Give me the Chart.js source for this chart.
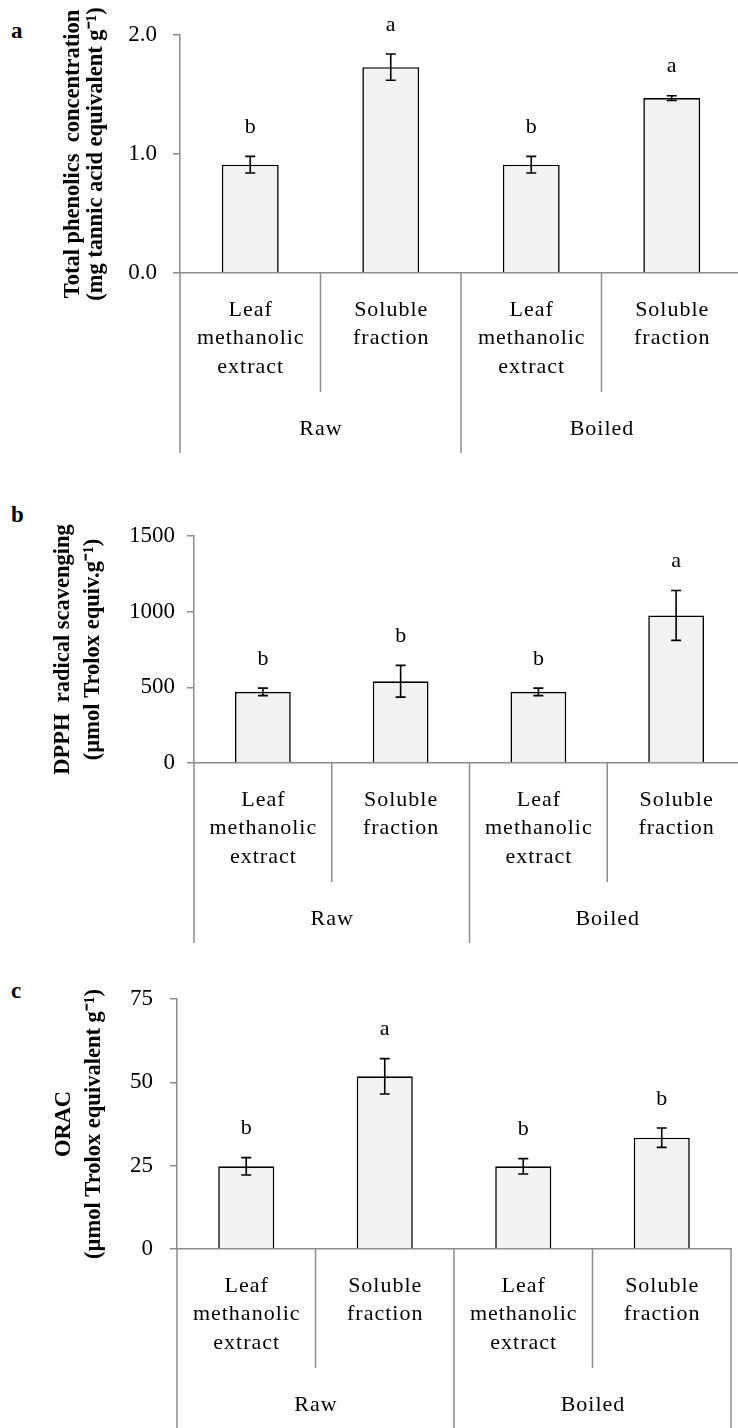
<!DOCTYPE html>
<html>
<head>
<meta charset="utf-8">
<script src="https://cdn.jsdelivr.net/npm/chart.js@4.4.1/dist/chart.umd.min.js"></script>
<style>
  html, body { margin: 0; padding: 0; background: #fff; }
  body { width: 738px; height: 1428px; overflow: hidden; position: relative; }
  .panel { position: absolute; left: 0; }
  .tag { position: absolute; left: 11px; font: bold 23px "Liberation Serif", serif; line-height: 23px; color: #000; }
</style>
</head>
<body>
<div class="tag" style="top:19px">a</div>
<div class="tag" style="top:503px">b</div>
<div class="tag" style="top:979px">c</div>

<div class="panel" style="top:0px"><canvas id="phenolics" width="750" height="460"></canvas></div>
<div class="panel" style="top:490px"><canvas id="dpph" width="750" height="460"></canvas></div>
<div class="panel" style="top:960px"><canvas id="orac" width="738" height="468"></canvas></div>

<script>
// categories, grouped as Raw / Boiled
const groups = ["Raw", "Boiled"]
const groupSizes = [2, 2]
const categories = [
    ["Leaf", "methanolic", "extract"],
    ["Soluble", "fraction"],
    ["Leaf", "methanolic", "extract"],
    ["Soluble", "fraction"]
]

// a - total phenolics (mg tannic acid equivalent g-1)
const phenolics = [0.91, 1.73, 0.91, 1.47]
const phenolicsErr = [0.07, 0.11, 0.07, 0.02]
const phenolicsLetters = ["b", "a", "b", "a"]

// b - DPPH radical scavenging (umol Trolox equiv. g-1)
const dpph = [470, 540, 470, 975]
const dpphErr = [25, 105, 25, 165]
const dpphLetters = ["b", "b", "b", "a"]

// c - ORAC (umol Trolox equivalent g-1)
const orac = [24.8, 51.8, 24.8, 33.4]
const oracErr = [2.6, 5.3, 2.3, 2.9]
const oracLetters = ["b", "a", "b", "b"]

const serif = '"Liberation Serif", "Times New Roman", serif'
const axisGrey = "#8c8c8c"
Chart.defaults.font.family = serif
Chart.defaults.color = "#000"

// error bars, significance letters and the two-level category axis
function extrasPlugin(err, letters) {
    return {
        id: "extras",
        afterDatasetsDraw(chart) {
            const ctx = chart.ctx
            const x = chart.scales.x
            const y = chart.scales.y
            const meta = chart.getDatasetMeta(0)
            const values = chart.data.datasets[0].data
            const area = chart.chartArea

            ctx.save()
            ctx.strokeStyle = "#000"
            ctx.lineWidth = 1.6
            ctx.fillStyle = "#000"
            ctx.font = "22px " + serif
            ctx.textAlign = "center"
            ctx.textBaseline = "middle"
            values.forEach((v, i) => {
                const cx = meta.data[i].x
                const top = y.getPixelForValue(v + err[i])
                const bot = y.getPixelForValue(v - err[i])
                ctx.beginPath()
                ctx.moveTo(cx, top); ctx.lineTo(cx, bot)
                ctx.moveTo(cx - 5, top); ctx.lineTo(cx + 5, top)
                ctx.moveTo(cx - 5, bot); ctx.lineTo(cx + 5, bot)
                ctx.stroke()
                ctx.fillText(letters[i], cx, top - 29)
            })

            // boundaries between categories
            const n = categories.length
            const edges = [area.left]
            for (let i = 1; i < n; i++) {
                edges.push((x.getPixelForValue(i - 1) + x.getPixelForValue(i)) / 2)
            }
            edges.push(area.right)

            const groupEdges = [0]
            groupSizes.forEach(s => groupEdges.push(groupEdges[groupEdges.length - 1] + s))

            ctx.strokeStyle = axisGrey
            ctx.lineWidth = 1.5
            edges.forEach((ex, i) => {
                const long = groupEdges.includes(i)
                ctx.beginPath()
                ctx.moveTo(ex, area.bottom)
                ctx.lineTo(ex, area.bottom + (long ? 180 : 119))
                ctx.stroke()
            })

            ctx.letterSpacing = "1px"
            categories.forEach((lines, i) => {
                const cx = x.getPixelForValue(i)
                lines.forEach((t, k) => ctx.fillText(t, cx + 0.5, area.bottom + 37 + k * 28.5))
            })
            groups.forEach((g, j) => {
                const gx = (edges[groupEdges[j]] + edges[groupEdges[j + 1]]) / 2
                ctx.fillText(g, gx + 0.5, area.bottom + 156)
            })
            ctx.restore()
        }
    }
}

function makeChart(id, values, err, letters, opt) {
    const ctx = document.getElementById(id).getContext("2d")
    return new Chart(ctx, {
        type: "bar",
        data: {
            labels: categories.map(c => c.join(" ")),
            datasets: [{
                data: values,
                backgroundColor: "#f2f2f2",
                borderColor: "#000",
                borderWidth: 1.6,
                barPercentage: 0.405,
                categoryPercentage: 1
            }]
        },
        options: {
            responsive: false,
            animation: false,
            devicePixelRatio: 1,
            layout: { padding: { left: 0, top: opt.top, right: opt.right, bottom: 0 } },
            plugins: { legend: { display: false }, tooltip: { enabled: false } },
            scales: {
                x: {
                    type: "category",
                    offset: true,
                    ticks: { display: false },
                    grid: { display: false },
                    border: { display: true, color: axisGrey, width: 1.5 },
                    afterFit: s => { s.height = opt.below }
                },
                y: {
                    min: 0,
                    max: opt.max,
                    ticks: {
                        stepSize: opt.step,
                        padding: opt.tickPad,
                        font: { size: 23 },
                        color: "#000",
                        callback: opt.fmt
                    },
                    grid: { drawOnChartArea: false, drawTicks: true, tickLength: 7, color: axisGrey, lineWidth: 1.5 },
                    border: { display: true, color: axisGrey, width: 1.5 },
                    title: {
                        display: true,
                        text: opt.title,
                        color: "#000",
                        font: { size: 22.5, weight: "bold", lineHeight: opt.titleLh },
                        padding: { top: opt.titlePad, bottom: 0 }
                    },
                    afterFit: s => { s.width = opt.axisX }
                }
            }
        },
        plugins: [extrasPlugin(err, letters)]
    })
}

makeChart("phenolics", phenolics, phenolicsErr, phenolicsLetters, {
    top: 35, right: 8, below: 187, axisX: 180, max: 2, step: 1, tickPad: 16,
    fmt: v => v.toFixed(1),
    title: ["Total phenolics  concentration", "(mg tannic acid equivalent g\u207B\u00B9)"],
    titleLh: 1.0, titlePad: 62
})

makeChart("dpph", dpph, dpphErr, dpphLetters, {
    top: 46, right: 5, below: 187, axisX: 194, max: 1500, step: 500, tickPad: 12,
    fmt: v => v,
    title: ["DPPH  radical scavenging", "(\u00B5mol Trolox equiv.g\u207B\u00B9)"],
    titleLh: 1.3, titlePad: 49
})

makeChart("orac", orac, oracErr, oracLetters, {
    top: 39, right: 7, below: 179, axisX: 177, max: 75, step: 25, tickPad: 17,
    fmt: v => v,
    title: ["ORAC", "(\u00B5mol Trolox equivalent g\u207B\u00B9)"],
    titleLh: 1.3, titlePad: 50
})
</script>
</body>
</html>
